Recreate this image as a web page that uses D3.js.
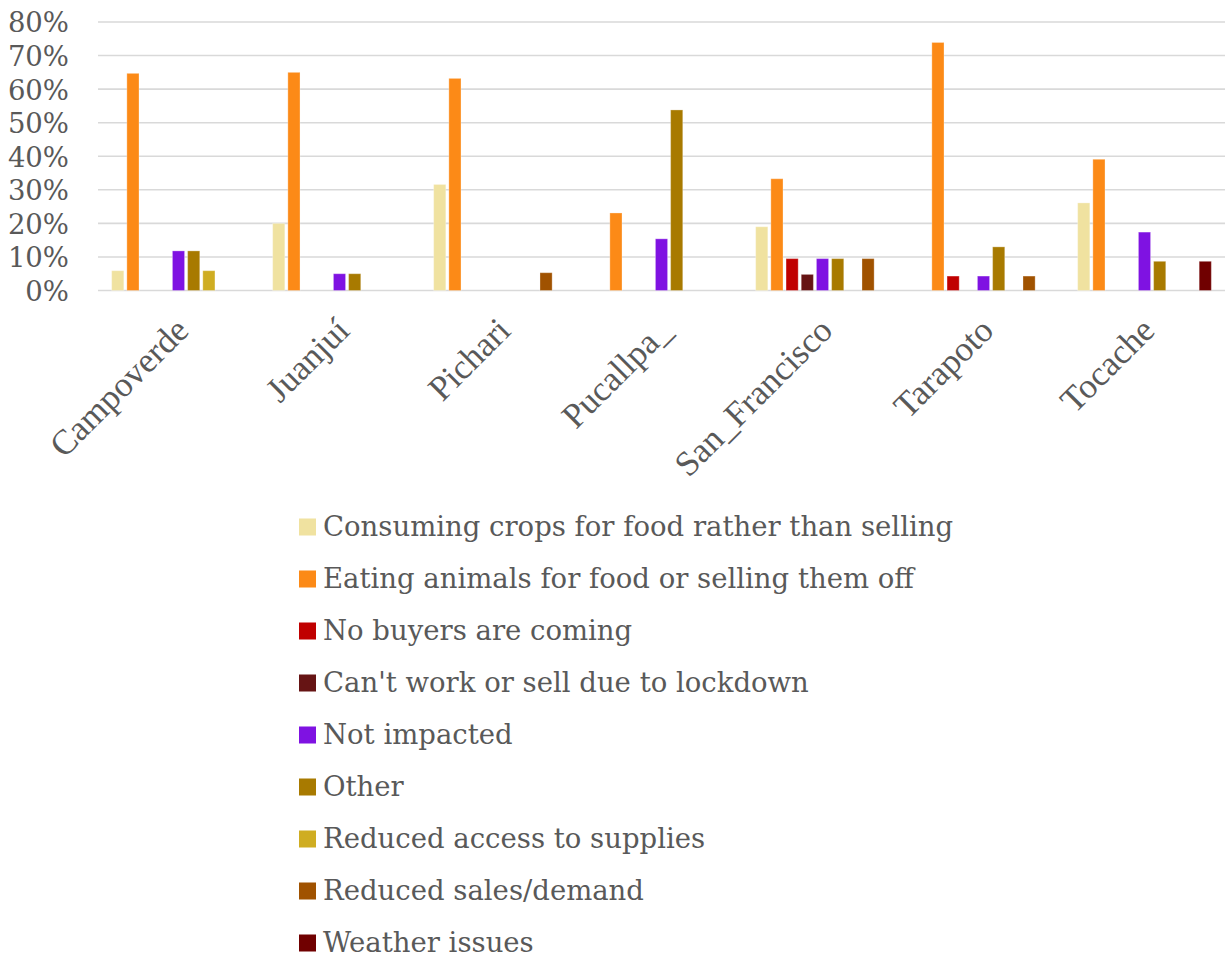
<!DOCTYPE html>
<html>
<head>
<meta charset="utf-8">
<script src="https://cdn.jsdelivr.net/npm/d3@7"></script>
<style>
  html, body { margin: 0; padding: 0; background: #fff; }
  svg { display: block; }
</style>
</head>
<body>
<svg id="chart" width="1225" height="958"></svg>
<script>
// Survey sites (x axis)
const sites = ["Campoverde", "Juanjuí", "Pichari", "Pucallpa_", "San_Francisco", "Tarapoto", "Tocache"];

// Reported impacts (one bar per impact within each site)
const impacts = [
  "Consuming crops for food rather than selling",
  "Eating animals for food or selling them off",
  "No buyers are coming",
  "Can't work or sell due to lockdown",
  "Not impacted",
  "Other",
  "Reduced access to supplies",
  "Reduced sales/demand",
  "Weather issues"
];

const impactColors = ["#F0E2A0", "#FC8A17", "#C00000", "#661414", "#7F12E2", "#A87A00", "#CFAD22", "#A05200", "#700000"];

// Share of respondents per site, in impact order above (null = no bar)
const consumingCrops  = [0.059, 0.200, 0.316, null,  0.190, null,  0.261];
const eatingAnimals   = [0.647, 0.650, 0.632, 0.231, 0.333, 0.739, 0.391];
const noBuyers        = [null,  null,  null,  null,  0.095, 0.043, null];
const lockdown        = [null,  null,  null,  null,  0.048, null,  null];
const notImpacted     = [0.118, 0.050, null,  0.154, 0.095, 0.043, 0.174];
const other           = [0.118, 0.050, null,  0.538, 0.095, 0.130, 0.087];
const reducedAccess   = [0.059, null,  null,  null,  null,  null,  null];
const reducedSales    = [null,  null,  0.053, null,  0.095, 0.043, null];
const weatherIssues   = [null,  null,  null,  null,  null,  null,  0.087];

const seriesValues = [consumingCrops, eatingAnimals, noBuyers, lockdown, notImpacted,
                      other, reducedAccess, reducedSales, weatherIssues];

const yTicks = [0, 0.1, 0.2, 0.3, 0.4, 0.5, 0.6, 0.7, 0.8];

const svg = d3.select("#chart");
const textColor = "#595959";
const gridColor = "#D9D9D9";

const plotLeft = 98, plotRight = 1225, plotTop = 22, plotBottom = 290.5;

const x0 = d3.scaleBand().domain(sites).range([plotLeft, plotRight]).paddingInner(0).paddingOuter(0);
const x1 = d3.scaleBand().domain(d3.range(impacts.length)).range([0, x0.bandwidth()])
  .paddingInner(0.2).paddingOuter(0.9);
const y = d3.scaleLinear().domain([0, 0.8]).range([plotBottom, plotTop]);

// Horizontal gridlines
svg.append("g")
  .selectAll("line")
  .data(yTicks)
  .join("line")
  .attr("x1", plotLeft).attr("x2", plotRight)
  .attr("y1", d => y(d)).attr("y2", d => y(d))
  .attr("stroke", gridColor).attr("stroke-width", 1.6);

// Y axis tick labels
const yAxis = d3.axisLeft(y).tickValues(yTicks).tickFormat(d3.format(".0%")).tickSize(0).tickPadding(0);
const gy = svg.append("g").attr("transform", "translate(69,0)").call(yAxis);
gy.select(".domain").remove();
gy.selectAll("text")
  .attr("fill", textColor)
  .attr("font-family", "'DejaVu Serif', serif")
  .attr("font-size", 27.5)
  .attr("dy", "0.36em");

// Bars
const rows = [];
seriesValues.forEach((vals, si) => {
  vals.forEach((v, ci) => {
    if (v != null) rows.push({ site: sites[ci], si, v });
  });
});

svg.append("g")
  .selectAll("rect")
  .data(rows)
  .join("rect")
  .attr("x", d => x0(d.site) + x1(d.si))
  .attr("width", x1.bandwidth())
  .attr("y", d => y(d.v))
  .attr("height", d => y(0) - y(d.v))
  .attr("fill", d => impactColors[d.si])
  .attr("stroke", "#ffffff")
  .attr("stroke-opacity", 0.3)
  .attr("stroke-width", 1);

// X axis category labels, rotated
const xAxis = d3.axisBottom(x0).tickSize(0).tickPadding(0);
const gx = svg.append("g").attr("transform", `translate(0,${plotBottom})`).call(xAxis);
gx.select(".domain").remove();
gx.selectAll(".tick text")
  .attr("fill", textColor)
  .attr("font-family", "'Liberation Serif', 'Times New Roman', serif")
  .attr("font-size", 35)
  .attr("text-anchor", "end")
  .attr("dy", null)
  .attr("y", null)
  .attr("transform", "translate(12,42) rotate(-45)");

// Legend
const legend = svg.append("g").attr("transform", "translate(299,0)");
const item = legend.selectAll("g")
  .data(impacts)
  .join("g")
  .attr("transform", (d, i) => `translate(0,${527 + i * 52})`);
item.append("rect")
  .attr("x", 0).attr("y", -8.5)
  .attr("width", 17).attr("height", 17)
  .attr("fill", (d, i) => impactColors[i]);
item.append("text")
  .attr("x", 24).attr("y", 9)
  .attr("fill", textColor)
  .attr("font-family", "'DejaVu Serif', serif")
  .attr("font-size", 27.5)
  .text(d => d);
</script>
</body>
</html>
